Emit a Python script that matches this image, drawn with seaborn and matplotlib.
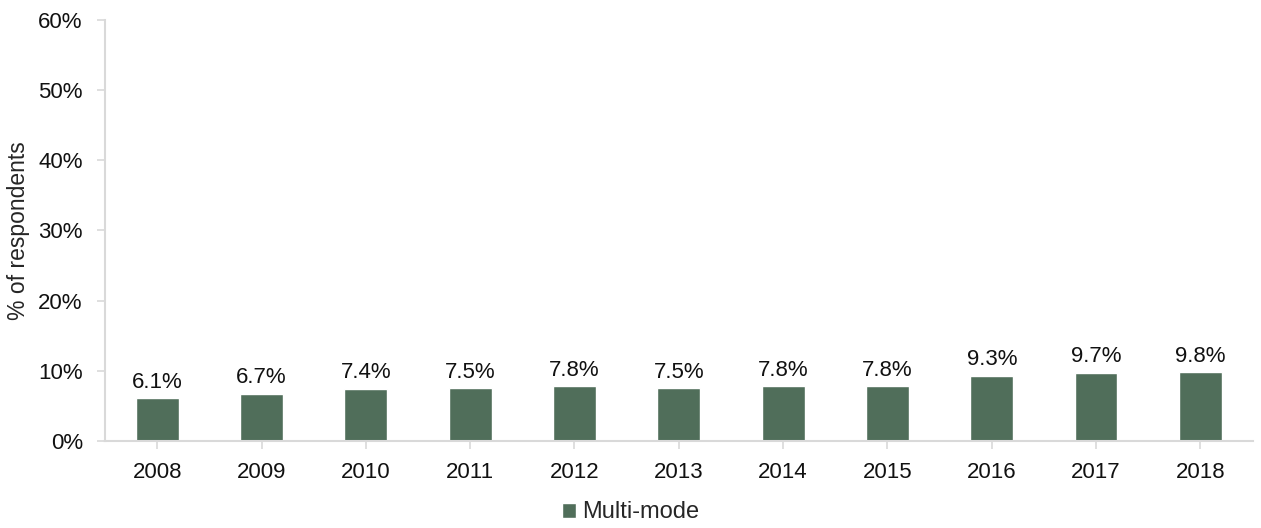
import matplotlib
matplotlib.use('Agg')
import pandas as pd
import seaborn as sns
import matplotlib.pyplot as plt
from matplotlib.ticker import PercentFormatter

# data
years = ['2008', '2009', '2010', '2011', '2012', '2013', '2014', '2015', '2016', '2017', '2018']
multi_mode = [6.1, 6.7, 7.4, 7.5, 7.8, 7.5, 7.8, 7.8, 9.3, 9.7, 9.8]

df = pd.DataFrame({'year': years, 'value': multi_mode})

sns.set_style('white')
plt.rcParams['font.family'] = ['Liberation Sans', 'DejaVu Sans']

bar_color = '#506e5a'
grey = '#d9d9d9'
fs = 16

fig = plt.figure(figsize=(12.61, 5.28), dpi=100)
ax = fig.add_axes([0.0833, 0.165, 0.91, 0.797])

sns.barplot(data=df, x='year', y='value', color=bar_color, width=0.41,
            saturation=1, ax=ax, label='Multi-mode')

for p, v in zip(ax.patches, multi_mode):
    ax.annotate(f'{v:.1f}%', (p.get_x() + p.get_width() / 2, p.get_height()),
                xytext=(0, 4), textcoords='offset points',
                ha='center', va='bottom', fontsize=fs, color='#111111')

ax.set_ylim(0, 60)
ax.set_yticks(range(0, 61, 10))
ax.yaxis.set_major_formatter(PercentFormatter(decimals=0))
ax.set_xlim(-0.5, len(years) - 0.5)
ax.set_xlabel('')
ax.set_ylabel('% of respondents', fontsize=16.5, labelpad=6)

for side in ['top', 'right']:
    ax.spines[side].set_visible(False)
for side in ['left', 'bottom']:
    ax.spines[side].set_color(grey)
    ax.spines[side].set_linewidth(1.5)

ax.tick_params(axis='both', labelsize=fs, colors='#111111', length=6, width=1.2,
               color=grey, direction='out', left=True, bottom=True)
ax.tick_params(axis='x', pad=9)
ax.tick_params(axis='y', pad=10)

leg = ax.legend(loc='lower center', bbox_to_anchor=(0.5, -0.018),
                bbox_transform=fig.transFigure, frameon=False,
                fontsize=17, handlelength=0.6, handleheight=0.6, handletextpad=0.25,
                borderpad=0.1)

fig.savefig('out.png', dpi=100)
